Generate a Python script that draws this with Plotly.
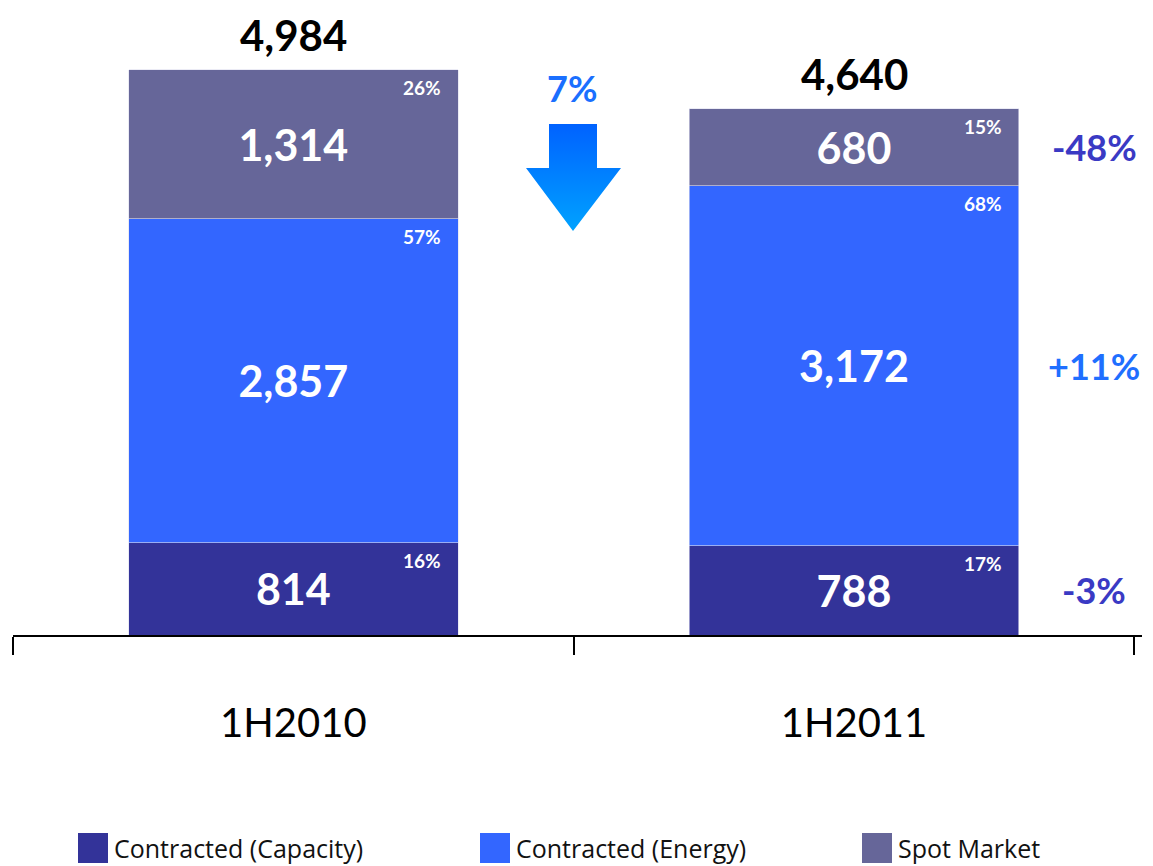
import plotly.graph_objects as go

# data
periods = ["1H2010", "1H2011"]
series = ["Contracted (Capacity)", "Contracted (Energy)", "Spot Market"]
values = {
    "Contracted (Capacity)": [814, 788],
    "Contracted (Energy)": [2857, 3172],
    "Spot Market": [1314, 680],
}
value_text = {
    "Contracted (Capacity)": ["814", "788"],
    "Contracted (Energy)": ["2,857", "3,172"],
    "Spot Market": ["1,314", "680"],
}
shares = {
    "Contracted (Capacity)": ["16%", "17%"],
    "Contracted (Energy)": ["57%", "68%"],
    "Spot Market": ["26%", "15%"],
}
totals = [4984, 4640]
total_labels = ["4,984", "4,640"]
changes = ["-3%", "+11%", "-48%"]
total_change = "7%"

colors = ["#333399", "#3366FF", "#666699"]
change_colors = ["#3A3AC4", "#1F6FFF", "#3A3AC4"]

# the page puts the figure 8px in from the top-left corner
OFF = 8
W, H = 1153 - OFF, 866 - OFF
L, R, T, B = 13 - OFF, 1142 - OFF, 0, 635 - OFF
YMAX = 5600 * B / 635
NUM_FONT = "Lato"

fig = go.Figure()

for s, c in zip(series, colors):
    fig.add_trace(go.Bar(
        x=periods, y=values[s], name=s, marker=dict(color=c, line=dict(color="#DDDDEE", width=0.6)),
        text=value_text[s], textposition="inside", insidetextanchor="middle",
        textfont=dict(family=NUM_FONT, size=43, color="white", weight="bold"),
        showlegend=False, hoverinfo="skip",
    ))

annotations = []
# share labels at top-right of each segment, and change labels on the right
for i, p in enumerate(periods):
    base = 0
    for j, s in enumerate(series):
        v = values[s][i]
        annotations.append(dict(
            x=p, y=base + v, xref="x", yref="y", text="<b>%s</b>" % shares[s][i],
            showarrow=False, xanchor="right", yanchor="top", xshift=150, yshift=-4,
            font=dict(family=NUM_FONT, size=19, color="white"),
        ))
        if i == 1:
            annotations.append(dict(
                x=p, y=base + v / 2, xref="x", yref="y", text="<b>%s</b>" % changes[j],
                showarrow=False, xanchor="center", yanchor="middle", xshift=240,
                font=dict(family=NUM_FONT, size=36, color=change_colors[j]),
            ))
        base += v
    annotations.append(dict(
        x=p, y=totals[i], xref="x", yref="y", text="<b>%s</b>" % total_labels[i],
        showarrow=False, xanchor="center", yanchor="bottom", yshift=8,
        font=dict(family=NUM_FONT, size=42, color="black"),
    ))

# change arrow between the bars (pixel coordinates on an overlay axis)
ax = [549, 597, 597, 621, 573, 526, 549, 549]
ay = [124, 124, 168, 168, 231, 168, 168, 124]
fig.add_trace(go.Scatter(
    x=[v - OFF for v in ax], y=[B - (v - OFF) for v in ay], xaxis="x2", yaxis="y2", mode="lines",
    line=dict(width=0), fill="toself",
    fillgradient=dict(type="vertical", colorscale=[[0, "#00A2FF"], [1, "#0062FF"]]),
    showlegend=False, hoverinfo="skip",
))
annotations.append(dict(
    x=572 - OFF, y=B - (88 - OFF), xref="x2", yref="y2", text="<b>%s</b>" % total_change,
    showarrow=False, font=dict(family=NUM_FONT, size=36, color="#1A6FFF"),
))

# legend
def px(xp):
    return (xp - OFF - L) / (R - L)

def py(yp):
    return (B - (yp - OFF)) / (B - T)

shapes = []
leg_x = [78, 480, 862]
for s, c, lx in zip(series, colors, leg_x):
    shapes.append(dict(type="rect", xref="paper", yref="paper",
                       x0=px(lx), x1=px(lx + 30), y0=py(833), y1=py(863),
                       fillcolor=c, line=dict(width=0)))
    annotations.append(dict(
        x=px(lx + 34), y=py(848), xref="paper", yref="paper", text=s,
        showarrow=False, xanchor="left", yanchor="middle",
        font=dict(family="Open Sans", size=25, color="#111111"),
    ))

fig.update_layout(
    width=W, height=H,
    margin=dict(l=L, r=W - R, t=T, b=H - B, pad=0),
    paper_bgcolor="white", plot_bgcolor="white",
    barmode="stack", bargap=0.412,
    xaxis=dict(
        showline=True, linecolor="black", linewidth=2,
        ticks="outside", tickson="boundaries", ticklen=18, tickcolor="black", tickwidth=1.5,
        tickfont=dict(family=NUM_FONT, size=40, color="black"), ticklabelstandoff=52,
        showgrid=False, zeroline=False, fixedrange=True,
    ),
    yaxis=dict(range=[0, YMAX], visible=False, showgrid=False, zeroline=False),
    xaxis2=dict(range=[L, R], overlaying="x", visible=False),
    yaxis2=dict(range=[0, B - T], overlaying="y", visible=False),
    annotations=annotations, shapes=shapes,
    uniformtext=dict(mode=False),
)

fig.write_html("out.html")
